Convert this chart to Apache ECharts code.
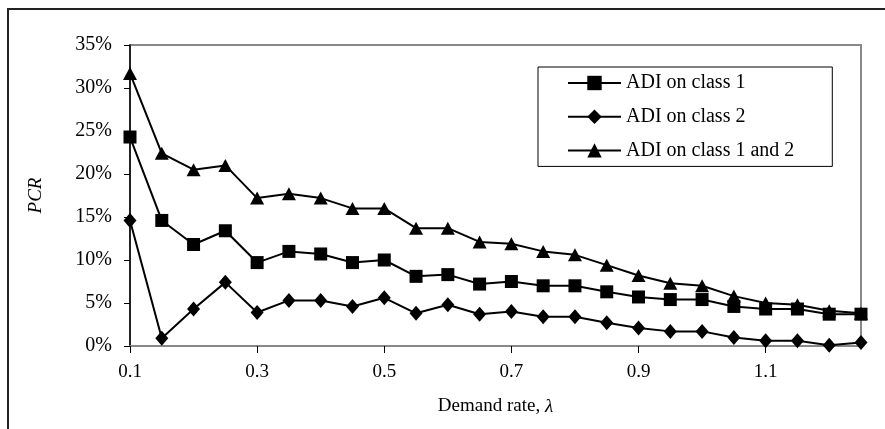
<!DOCTYPE html>
<html>
<head>
<meta charset="utf-8">
<script src="https://cdn.jsdelivr.net/npm/echarts@6/dist/echarts.min.js"></script>
<style>
html,body{margin:0;padding:0;background:#fff;}
#chart{width:885px;height:429px;}
</style>
</head>
<body>
<div id="chart"></div>
<script>
var lambdas = ['0.1','0.15','0.2','0.25','0.3','0.35','0.4','0.45','0.5','0.55','0.6','0.65','0.7','0.75','0.8','0.85','0.9','0.95','1','1.05','1.1','1.15','1.2','1.25'];
var adiClass1 = [24.3, 14.6, 11.8, 13.4, 9.7, 11.0, 10.7, 9.7, 10.0, 8.1, 8.3, 7.2, 7.5, 7.0, 7.0, 6.3, 5.7, 5.4, 5.4, 4.6, 4.3, 4.3, 3.7, 3.7];
var adiClass2 = [14.6, 0.9, 4.3, 7.4, 3.9, 5.3, 5.3, 4.6, 5.6, 3.8, 4.8, 3.7, 4.0, 3.4, 3.4, 2.7, 2.1, 1.7, 1.7, 1.0, 0.6, 0.6, 0.1, 0.4];
var adiBoth = [31.7, 22.4, 20.5, 21.0, 17.2, 17.7, 17.2, 16.0, 16.0, 13.7, 13.7, 12.1, 11.9, 11.0, 10.6, 9.4, 8.2, 7.3, 7.0, 5.8, 5.0, 4.8, 4.1, 3.8];
var seriesNames = ['ADI on class 1', 'ADI on class 2', 'ADI on class 1 and 2'];

var FONT = '"Liberation Serif", "Times New Roman", serif';
var chart = echarts.init(document.getElementById('chart'));

function mk(name, data, symbol, size) {
  return {
    name: name, type: 'line', data: data,
    symbol: symbol, symbolSize: size, showSymbol: true,
    lineStyle: {color: '#000', width: 2},
    itemStyle: {color: '#000', borderColor: '#000', borderWidth: 0},
    emphasis: {disabled: true},
    animation: false
  };
}

chart.setOption({
  backgroundColor: '#fff',
  animation: false,
  textStyle: {fontFamily: FONT, color: '#000'},
  graphic: [{
    type: 'rect', silent: true,
    shape: {x: 8, y: 9, width: 1000, height: 1000},
    style: {fill: 'none', stroke: '#222', lineWidth: 2}
  }],
  grid: {left: 130, right: 24, top: 45, bottom: 83, show: true, borderColor: '#888', borderWidth: 2, backgroundColor: 'transparent'},
  legend: {
    orient: 'vertical', left: 538, top: 67,
    data: seriesNames,
    itemWidth: 53, itemHeight: 18, itemGap: 13.7,
    padding: [6, 38, 6, 29],
    borderColor: '#000', borderWidth: 1,
    backgroundColor: '#fff',
    textStyle: {fontFamily: FONT, fontSize: 20, color: '#000'},
    selectedMode: false
  },
  xAxis: {
    type: 'category', data: lambdas, boundaryGap: false,
    name: 'Demand rate, {i|λ}', nameLocation: 'middle', nameGap: 51,
    nameTextStyle: {fontFamily: FONT, fontSize: 19, color: '#000', rich: {i: {fontFamily: FONT, fontSize: 19, fontStyle: 'italic', color: '#000'}}},
    axisLine: {lineStyle: {color: '#888', width: 2}},
    axisTick: {show: true, interval: 3, length: 7, inside: false, lineStyle: {color: '#000', width: 1}},
    axisLabel: {interval: 3, margin: 17, fontFamily: FONT, fontSize: 19, color: '#000'},
    splitLine: {show: false}
  },
  yAxis: {
    type: 'value', min: 0, max: 35, interval: 5,
    name: 'PCR', nameLocation: 'middle', nameGap: 85, nameRotate: 90,
    nameTextStyle: {fontFamily: FONT, fontSize: 19, fontStyle: 'italic', color: '#000'},
    axisLine: {show: true, lineStyle: {color: '#000', width: 1.5}},
    axisTick: {show: true, length: 6, lineStyle: {color: '#000', width: 1}},
    axisLabel: {formatter: '{value}%', margin: 18, fontFamily: FONT, fontSize: 20, color: '#000'},
    splitLine: {show: false}
  },
  series: [
    mk(seriesNames[0], adiClass1, 'rect', 13),
    mk(seriesNames[1], adiClass2, 'diamond', [13, 15]),
    mk(seriesNames[2], adiBoth, 'triangle', [14, 13])
  ]
});
</script>
</body>
</html>
